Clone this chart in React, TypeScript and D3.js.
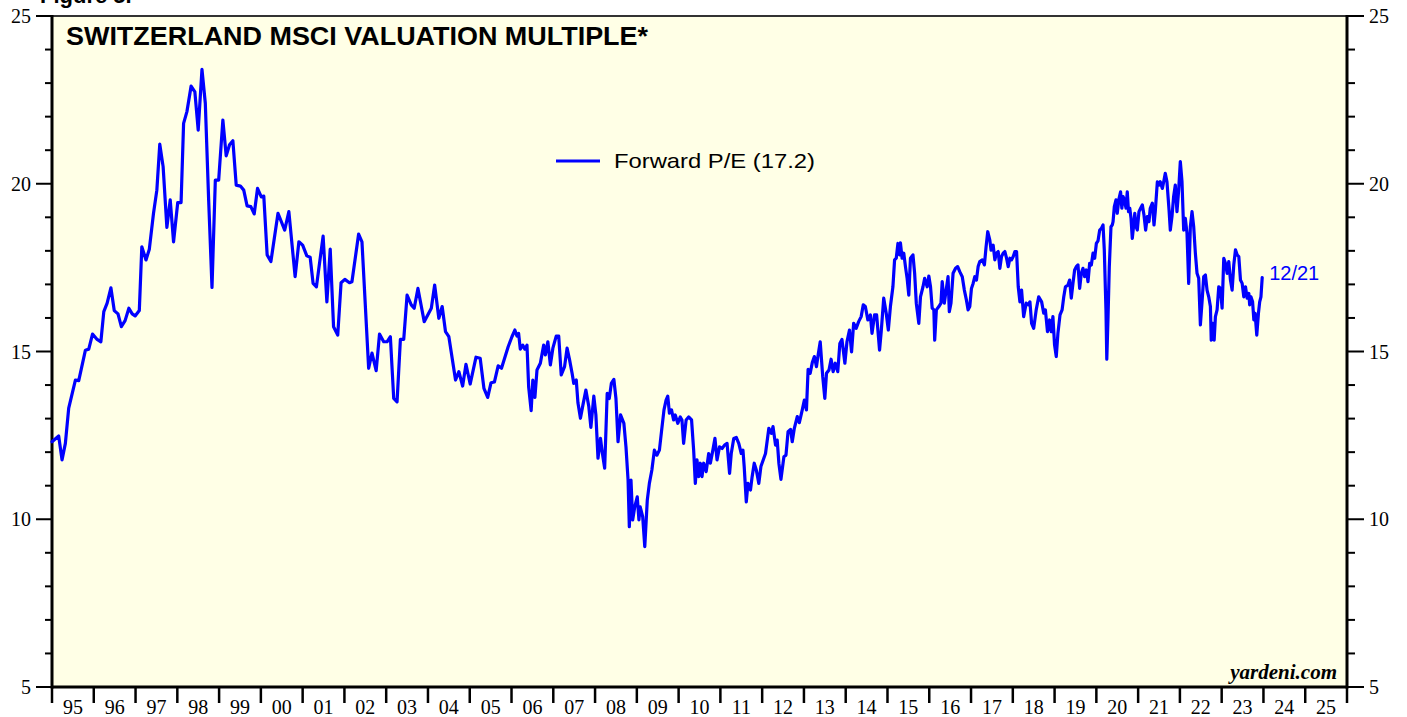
import React from "react";
import * as d3 from "d3";

// Forward P/E, Switzerland MSCI — [decimal year, value]
const pe1995_1999: [number, number][] = [
  [1995.0, 12.31], [1995.16, 12.48], [1995.24, 11.77], [1995.32, 12.26], [1995.4, 13.31], [1995.56, 14.15],
  [1995.64, 14.13], [1995.8, 15.04], [1995.88, 15.07], [1995.97, 15.52], [1996.08, 15.36], [1996.17, 15.29],
  [1996.24, 16.19], [1996.32, 16.44], [1996.41, 16.9], [1996.49, 16.22], [1996.58, 16.12], [1996.66, 15.74],
  [1996.75, 15.92], [1996.84, 16.29], [1996.92, 16.12], [1996.99, 16.06], [1997.09, 16.22], [1997.15, 18.12],
  [1997.25, 17.73], [1997.33, 18.05], [1997.43, 19.12], [1997.51, 19.81], [1997.58, 21.18], [1997.66, 20.51],
  [1997.75, 18.7], [1997.83, 19.52], [1997.91, 18.27], [1998.01, 19.44], [1998.09, 19.44], [1998.15, 21.8],
  [1998.23, 22.15], [1998.33, 22.91], [1998.42, 22.74], [1998.5, 21.6], [1998.59, 23.41], [1998.67, 22.4],
  [1998.75, 19.52], [1998.83, 16.91], [1998.91, 20.11], [1998.99, 20.11], [1999.09, 21.9], [1999.17, 20.83],
  [1999.25, 21.16], [1999.33, 21.28], [1999.41, 19.96], [1999.51, 19.93], [1999.59, 19.81], [1999.67, 19.34],
  [1999.76, 19.32], [1999.84, 19.1], [1999.92, 19.86],
];

const pe2000_2005: [number, number][] = [
  [2000.01, 19.61], [2000.07, 19.63], [2000.15, 17.88], [2000.24, 17.68], [2000.41, 19.12], [2000.57, 18.62],
  [2000.67, 19.17], [2000.82, 17.23], [2000.91, 18.27], [2001.0, 18.17], [2001.1, 17.85], [2001.18, 17.81],
  [2001.25, 17.03], [2001.33, 16.93], [2001.49, 18.44], [2001.58, 16.48], [2001.66, 18.05], [2001.74, 15.74],
  [2001.84, 15.49], [2001.92, 17.05], [2002.01, 17.15], [2002.12, 17.05], [2002.18, 17.08], [2002.34, 18.5],
  [2002.42, 18.27], [2002.58, 14.5], [2002.66, 14.95], [2002.76, 14.43], [2002.84, 15.52], [2002.94, 15.29],
  [2003.02, 15.29], [2003.1, 15.44], [2003.18, 13.6], [2003.26, 13.5], [2003.34, 15.36], [2003.42, 15.36],
  [2003.5, 16.68], [2003.6, 16.39], [2003.67, 16.29], [2003.76, 16.88], [2003.91, 15.89], [2004.08, 16.29],
  [2004.16, 16.98], [2004.26, 15.99], [2004.34, 16.34], [2004.42, 15.59], [2004.5, 15.44], [2004.66, 14.15],
  [2004.74, 14.4], [2004.83, 13.97], [2004.91, 14.62], [2005.01, 14.03], [2005.15, 14.83], [2005.25, 14.8],
  [2005.34, 13.9], [2005.43, 13.63], [2005.51, 14.07], [2005.59, 14.09], [2005.68, 14.57], [2005.76, 14.5],
  [2005.92, 15.14],
];

const pe2006_2011: [number, number][] = [
  [2006.01, 15.44], [2006.08, 15.64], [2006.13, 15.46], [2006.17, 15.54], [2006.21, 15.07], [2006.27, 15.19],
  [2006.32, 15.07], [2006.37, 15.19], [2006.41, 13.95], [2006.47, 13.24], [2006.51, 14.15], [2006.56, 13.63],
  [2006.61, 14.45], [2006.69, 14.65], [2006.77, 15.19], [2006.81, 14.9], [2006.87, 15.29], [2006.93, 14.6],
  [2006.99, 15.1], [2007.07, 15.46], [2007.13, 15.46], [2007.19, 14.3], [2007.27, 14.55], [2007.33, 15.1],
  [2007.39, 14.75], [2007.45, 14.35], [2007.49, 14.05], [2007.55, 14.15], [2007.59, 13.47], [2007.65, 13.01],
  [2007.71, 13.41], [2007.78, 13.85], [2007.85, 13.36], [2007.9, 12.74], [2007.97, 13.67], [2008.02, 13.11],
  [2008.07, 11.82], [2008.13, 12.41], [2008.17, 12.01], [2008.23, 11.52], [2008.29, 13.75], [2008.34, 13.6],
  [2008.39, 14.05], [2008.45, 14.17], [2008.5, 13.6], [2008.55, 12.31], [2008.61, 13.11], [2008.69, 12.86],
  [2008.74, 12.16], [2008.79, 11.17], [2008.82, 9.78], [2008.86, 11.17], [2008.9, 9.98], [2008.95, 10.37],
  [2009.01, 10.67], [2009.05, 9.98], [2009.08, 10.37], [2009.14, 10.08], [2009.19, 9.18], [2009.25, 10.57],
  [2009.3, 11.07], [2009.36, 11.47], [2009.42, 12.06], [2009.48, 11.91], [2009.54, 12.06], [2009.59, 12.61],
  [2009.65, 13.26], [2009.7, 13.55], [2009.74, 13.67], [2009.78, 13.16], [2009.83, 13.26], [2009.88, 12.96],
  [2009.92, 13.11], [2009.98, 12.86], [2010.04, 13.05], [2010.08, 12.96], [2010.12, 12.26], [2010.18, 12.96],
  [2010.24, 13.05], [2010.31, 12.96], [2010.36, 12.06], [2010.4, 11.07], [2010.44, 11.77], [2010.48, 11.27],
  [2010.52, 11.67], [2010.56, 11.27], [2010.6, 11.67], [2010.66, 11.42], [2010.72, 11.96], [2010.76, 11.67],
  [2010.82, 12.06], [2010.87, 12.41], [2010.92, 11.77], [2010.98, 12.16], [2011.04, 12.11], [2011.1, 12.21],
  [2011.16, 12.26], [2011.22, 11.37], [2011.26, 11.96], [2011.32, 12.41], [2011.38, 12.44], [2011.44, 12.26],
  [2011.5, 11.96], [2011.54, 12.06], [2011.57, 11.57], [2011.62, 10.52], [2011.66, 11.07], [2011.72, 10.87],
  [2011.76, 11.27], [2011.81, 11.67], [2011.86, 11.47], [2011.92, 11.07], [2011.97, 11.57],
];

const pe2012_2017: [number, number][] = [
  [2012.08, 11.96], [2012.16, 12.71], [2012.22, 12.56], [2012.26, 12.76], [2012.32, 12.21], [2012.36, 12.36],
  [2012.4, 11.67], [2012.45, 11.19], [2012.52, 11.86], [2012.57, 11.91], [2012.62, 12.61], [2012.68, 12.68],
  [2012.72, 12.31], [2012.77, 12.71], [2012.84, 13.06], [2012.89, 12.88], [2012.96, 13.26], [2013.01, 13.55],
  [2013.06, 13.26], [2013.1, 14.47], [2013.15, 14.35], [2013.2, 14.67], [2013.25, 14.85], [2013.3, 14.55],
  [2013.34, 14.9], [2013.39, 15.29], [2013.45, 14.25], [2013.5, 13.6], [2013.54, 14.35], [2013.6, 14.45],
  [2013.65, 14.77], [2013.7, 14.4], [2013.75, 14.65], [2013.81, 14.4], [2013.86, 15.24], [2013.91, 15.36],
  [2013.98, 14.65], [2014.03, 15.29], [2014.09, 15.64], [2014.14, 14.99], [2014.19, 15.84], [2014.25, 15.69],
  [2014.31, 15.89], [2014.37, 16.04], [2014.42, 16.39], [2014.47, 16.34], [2014.53, 15.94], [2014.59, 16.09],
  [2014.63, 15.54], [2014.69, 16.09], [2014.74, 16.09], [2014.81, 15.04], [2014.85, 15.59], [2014.91, 16.59],
  [2014.97, 16.14], [2015.02, 15.64], [2015.07, 16.34], [2015.13, 16.93], [2015.17, 17.73], [2015.21, 17.78],
  [2015.25, 18.22], [2015.29, 17.88], [2015.31, 18.24], [2015.35, 17.78], [2015.39, 17.93], [2015.43, 17.53],
  [2015.47, 17.18], [2015.51, 16.68], [2015.55, 17.78], [2015.61, 17.88], [2015.65, 17.33], [2015.69, 16.44],
  [2015.75, 15.84], [2015.79, 16.63], [2015.85, 16.93], [2015.89, 17.18], [2015.95, 16.93], [2015.99, 17.25],
  [2016.03, 16.93], [2016.07, 16.29], [2016.11, 16.24], [2016.13, 15.34], [2016.17, 16.24], [2016.23, 16.34],
  [2016.28, 16.44], [2016.31, 17.08], [2016.36, 16.44], [2016.41, 16.88], [2016.45, 17.23], [2016.48, 16.19],
  [2016.52, 16.44], [2016.57, 17.33], [2016.63, 17.48], [2016.68, 17.53], [2016.73, 17.38], [2016.79, 17.23],
  [2016.84, 16.83], [2016.89, 16.53], [2016.93, 16.24], [2016.97, 16.34], [2017.01, 16.88], [2017.05, 17.03],
  [2017.09, 17.23], [2017.13, 17.13], [2017.17, 17.53], [2017.21, 17.68], [2017.27, 17.73], [2017.32, 17.58],
  [2017.36, 18.12], [2017.4, 18.57], [2017.45, 18.32], [2017.48, 18.02], [2017.53, 18.17], [2017.57, 17.73],
  [2017.61, 17.93], [2017.65, 17.98], [2017.69, 17.48], [2017.73, 17.83], [2017.77, 17.93], [2017.81, 17.98],
  [2017.85, 17.78], [2017.89, 17.53], [2017.93, 17.78], [2017.97, 17.73],
];

const pe2018_2023: [number, number][] = [
  [2018.01, 17.83], [2018.05, 17.98], [2018.09, 17.98], [2018.13, 16.93], [2018.17, 16.48], [2018.21, 16.83],
  [2018.26, 16.04], [2018.32, 16.44], [2018.37, 16.39], [2018.41, 16.48], [2018.45, 15.84], [2018.5, 15.69],
  [2018.56, 16.24], [2018.62, 16.63], [2018.69, 16.48], [2018.74, 16.14], [2018.78, 16.24], [2018.83, 15.59],
  [2018.88, 15.94], [2018.92, 15.59], [2018.96, 16.04], [2019.0, 15.19], [2019.04, 14.85], [2019.08, 15.54],
  [2019.13, 16.09], [2019.18, 16.24], [2019.22, 16.63], [2019.26, 16.93], [2019.32, 16.98], [2019.36, 17.13],
  [2019.4, 16.59], [2019.44, 17.03], [2019.48, 17.43], [2019.52, 17.53], [2019.56, 17.58], [2019.6, 16.88],
  [2019.64, 17.33], [2019.68, 17.48], [2019.72, 17.23], [2019.76, 17.43], [2019.8, 17.08], [2019.84, 17.63],
  [2019.88, 17.58], [2019.92, 17.93], [2019.96, 17.78], [2020.0, 18.22], [2020.04, 18.3], [2020.08, 18.62],
  [2020.12, 18.67], [2020.16, 18.77], [2020.19, 18.03], [2020.23, 16.24], [2020.25, 14.77], [2020.28, 16.04],
  [2020.31, 17.53], [2020.35, 18.72], [2020.38, 18.77], [2020.4, 18.87], [2020.43, 19.32], [2020.47, 19.52],
  [2020.5, 19.12], [2020.54, 19.54], [2020.58, 19.76], [2020.61, 19.27], [2020.64, 19.62], [2020.67, 19.52],
  [2020.71, 19.27], [2020.74, 19.76], [2020.77, 19.17], [2020.8, 19.27], [2020.83, 18.97], [2020.86, 18.37],
  [2020.89, 18.72], [2020.92, 19.12], [2020.95, 18.72], [2020.98, 18.62], [2021.02, 19.17], [2021.06, 19.27],
  [2021.1, 19.37], [2021.14, 19.07], [2021.18, 18.62], [2021.22, 19.02], [2021.26, 18.87], [2021.29, 19.27],
  [2021.34, 19.42], [2021.38, 18.77], [2021.41, 19.17], [2021.46, 20.06], [2021.5, 19.96], [2021.53, 20.06],
  [2021.58, 19.86], [2021.62, 20.11], [2021.65, 20.31], [2021.69, 20.06], [2021.74, 19.22], [2021.77, 18.62],
  [2021.81, 19.02], [2021.85, 19.62], [2021.89, 19.96], [2021.93, 19.17], [2021.97, 19.81], [2022.01, 20.66],
  [2022.05, 20.06], [2022.09, 18.62], [2022.13, 18.97], [2022.17, 18.52], [2022.21, 17.03], [2022.25, 18.72],
  [2022.29, 19.17], [2022.33, 18.72], [2022.37, 17.93], [2022.41, 17.33], [2022.45, 17.18], [2022.49, 15.79],
  [2022.53, 16.48], [2022.57, 17.23], [2022.61, 17.28], [2022.65, 16.83], [2022.69, 16.63], [2022.73, 16.34],
  [2022.75, 15.34], [2022.79, 15.84], [2022.82, 15.34], [2022.85, 16.04], [2022.89, 16.24], [2022.93, 16.93],
  [2022.97, 16.88], [2023.01, 16.29], [2023.05, 17.78], [2023.09, 17.63], [2023.13, 17.33], [2023.17, 17.68],
  [2023.21, 17.13], [2023.25, 16.83], [2023.29, 17.58], [2023.33, 18.03], [2023.37, 17.88], [2023.41, 17.83],
  [2023.45, 17.13], [2023.49, 17.03], [2023.53, 16.63], [2023.57, 16.93], [2023.61, 16.59], [2023.65, 16.73],
  [2023.67, 16.39], [2023.7, 16.63], [2023.74, 16.48], [2023.77, 15.94], [2023.8, 16.14], [2023.84, 15.49],
  [2023.88, 16.14], [2023.91, 16.48], [2023.94, 16.63], [2023.97, 17.2],
];

const yearLabels = ["95", "96", "97", "98", "99", "00", "01", "02", "03", "04", "05", "06", "07", "08", "09", "10",
  "11", "12", "13", "14", "15", "16", "17", "18", "19", "20", "21", "22", "23", "24", "25"];
const yMajorTicks = [5, 10, 15, 20, 25];
const yMinorTicks = d3.range(5, 26, 1);

const title = "SWITZERLAND MSCI VALUATION MULTIPLE*";
const legendLabel = "Forward P/E (17.2)";
const endLabel = "12/21";

const W = 1407;
const H = 717;
const L = 52, R = 1347, T = 16, B = 687;

export default function App() {
  const x = d3.scaleLinear().domain([1995, 2026]).range([L, R]);
  const y = d3.scaleLinear().domain([5, 25]).range([B, T]);
  const data = [...pe1995_1999, ...pe2000_2005, ...pe2006_2011, ...pe2012_2017, ...pe2018_2023];
  const line = d3.line<[number, number]>().x((d) => x(d[0])).y((d) => y(d[1]));
  const last = data[data.length - 1];
  const yearTicks = d3.range(1995, 2027);

  return (
    <svg width={W} height={H} style={{ position: "absolute", left: 0, top: 0, background: "#fff" }}>
      <text x={40} y={3} fontFamily="Arial, Liberation Sans, sans-serif" fontWeight="bold" fontSize={22}>Figure 5.</text>
      <rect x={L} y={T} width={R - L} height={B - T} fill="#FFFFE6" />
      {/* frame */}
      <line x1={L} x2={R} y1={T} y2={T} stroke="#333" strokeWidth={2} />
      <line x1={L} x2={L} y1={T - 1} y2={B + 1.5} stroke="#000" strokeWidth={3} />
      <line x1={R} x2={R} y1={T - 1} y2={B + 1.5} stroke="#000" strokeWidth={3} />
      <line x1={L} x2={R} y1={B} y2={B} stroke="#000" strokeWidth={3} />

      {/* y ticks */}
      {yMinorTicks.map((v) => {
        const major = yMajorTicks.includes(v);
        return (
          <g key={v}>
            <line x1={major ? L - 16 : L - 7} x2={L} y1={y(v)} y2={y(v)} stroke="#000" strokeWidth={2} />
            <line x1={R} x2={major ? R + 17 : R + 8} y1={y(v)} y2={y(v)} stroke="#000" strokeWidth={2} />
          </g>
        );
      })}
      {yMajorTicks.map((v) => (
        <g key={"l" + v} fontFamily="Times New Roman, Liberation Serif, serif" fontSize={20} fill="#000">
          <text x={31} y={y(v) + 7} textAnchor="end">{v}</text>
          <text x={1369} y={y(v) + 7}>{v}</text>
        </g>
      ))}

      {/* x ticks */}
      {yearTicks.map((yr) => (
        <line key={yr} x1={x(yr)} x2={x(yr)} y1={B} y2={B + 16} stroke="#000" strokeWidth={2.5} />
      ))}
      {yearLabels.map((lab, i) => (
        <text key={lab + i} x={x(1995.5 + i)} y={714} textAnchor="middle"
          fontFamily="Times New Roman, Liberation Serif, serif" fontSize={20} fill="#000">{lab}</text>
      ))}

      {/* title */}
      <text x={66} y={45} fontFamily="Arial, Liberation Sans, sans-serif" fontWeight="bold" fontSize={25}
        textLength={582} lengthAdjust="spacingAndGlyphs" fill="#000">{title}</text>

      {/* legend */}
      <line x1={556} x2={600} y1={161} y2={161} stroke="#0000FF" strokeWidth={3} />
      <text x={614} y={168} fontFamily="Arial, Liberation Sans, sans-serif" fontSize={21}
        textLength={201} lengthAdjust="spacingAndGlyphs" fill="#000">{legendLabel}</text>

      {/* series */}
      <path d={line(data) || ""} fill="none" stroke="#0000FF" strokeWidth={3.2} strokeLinejoin="round" strokeLinecap="round" />
      <text x={x(last[0]) + 7} y={y(last[1]) + 2} fontFamily="Arial, Liberation Sans, sans-serif" fontSize={20} fill="#0000FF">{endLabel}</text>

      {/* source */}
      <text x={1337} y={679} textAnchor="end" fontFamily="Times New Roman, Liberation Serif, serif" fontStyle="italic" fontWeight="bold" fontSize={21} fill="#000">yardeni.com</text>
    </svg>
  );
}
